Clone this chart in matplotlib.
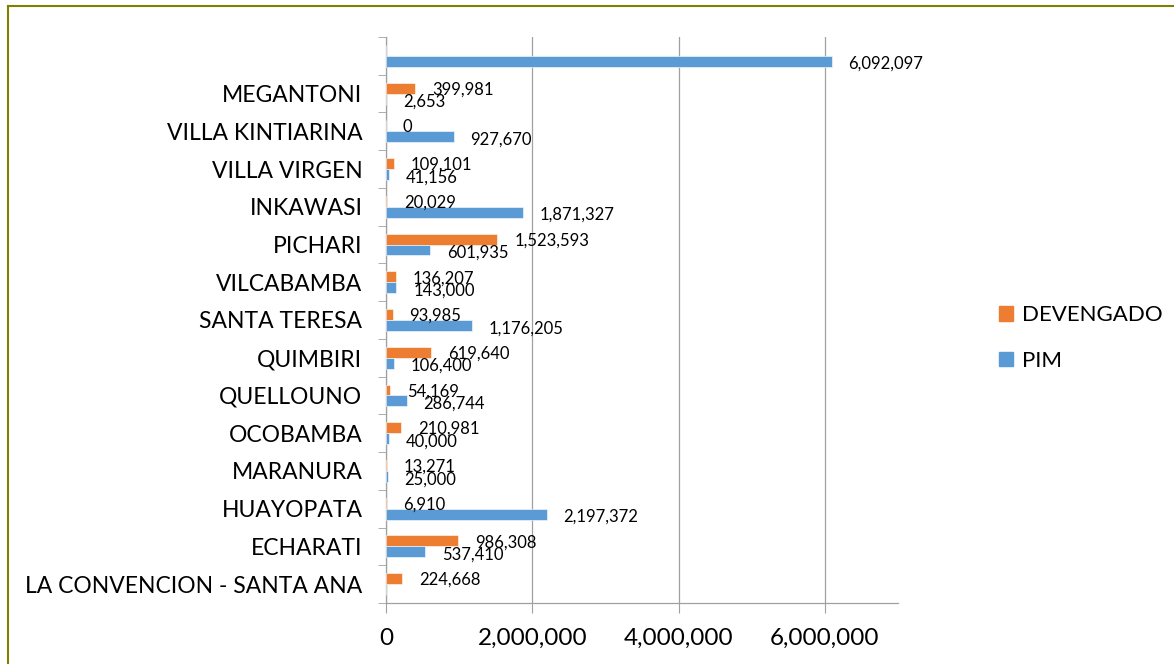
import matplotlib
matplotlib.use('Agg')
import matplotlib.pyplot as plt
from matplotlib.lines import Line2D
import numpy as np

plt.rcParams['font.family'] = ['Lato', 'DejaVu Sans']

# districts, bottom to top; the last one has no name
districts = ['LA CONVENCION - SANTA ANA', 'ECHARATI', 'HUAYOPATA', 'MARANURA',
             'OCOBAMBA', 'QUELLOUNO', 'QUIMBIRI', 'SANTA TERESA', 'VILCABAMBA',
             'PICHARI', 'INKAWASI', 'VILLA VIRGEN', 'VILLA KINTIARINA',
             'MEGANTONI', '']
devengado = [224668, 986308, 6910, 13271, 210981, 54169, 619640, 93985,
             136207, 1523593, 20029, 109101, 0, 399981, None]
pim = [None, 537410, 2197372, 25000, 40000, 286744, 106400, 1176205,
       143000, 601935, 1871327, 41156, 927670, 2653, 6092097]

orange = '#ED7D31'
blue = '#5B9BD5'
grey = '#A0A0A0'

fig = plt.figure(figsize=(11.74, 6.64), dpi=100)
ax = fig.add_axes([386 / 1174, 61 / 664, 512 / 1174, 566 / 664])

y = np.arange(len(districts))
h = 0.29
dev = np.array([np.nan if v is None else v for v in devengado], dtype=float)
pm = np.array([np.nan if v is None else v for v in pim], dtype=float)

ax.barh(y + h / 2, np.nan_to_num(dev), height=h, color=orange, label='DEVENGADO',
        edgecolor='white', linewidth=0.4, zorder=3)
ax.barh(y - h / 2, np.nan_to_num(pm), height=h, color=blue, label='PIM',
        edgecolor='white', linewidth=0.4, zorder=3)

for i in range(len(districts)):
    if not np.isnan(dev[i]):
        ax.annotate(f'{int(dev[i]):,}', (dev[i], y[i] + h / 2), xytext=(12, -1),
                    textcoords='offset points', ha='left', va='center',
                    fontsize=12, zorder=4)
    if not np.isnan(pm[i]):
        ax.annotate(f'{int(pm[i]):,}', (pm[i], y[i] - h / 2), xytext=(12, -2),
                    textcoords='offset points', ha='left', va='center',
                    fontsize=12, zorder=4)

ax.set_xlim(0, 7000000)
ax.set_ylim(-0.5, len(districts) - 0.5)
ax.set_xticks([0, 2000000, 4000000, 6000000])
ax.set_xticklabels(['0', '2,000,000', '4,000,000', '6,000,000'], fontsize=17.5)
ax.set_yticks(y)
ax.set_yticklabels(districts, fontsize=16.5)
ax.set_yticks(np.arange(-0.5, len(districts)), minor=True)
ax.tick_params(axis='y', which='major', length=0, pad=17)
ax.tick_params(axis='y', which='minor', length=6, color=grey, direction='out')
ax.tick_params(axis='x', length=7, color=grey, direction='out', pad=11)

ax.grid(axis='x', color=grey, linewidth=0.9, zorder=0)
ax.set_axisbelow(True)
for s in ['top', 'right']:
    ax.spines[s].set_visible(False)
for s in ['left', 'bottom']:
    ax.spines[s].set_color(grey)
    ax.spines[s].set_linewidth(0.9)

handles = [plt.Rectangle((0, 0), 1, 1, color=orange), plt.Rectangle((0, 0), 1, 1, color=blue)]
fig.legend(handles, ['DEVENGADO', 'PIM'], loc='center left',
           bbox_to_anchor=(979 / 1174, 1 - 338 / 664), frameon=False,
           fontsize=16, handlelength=0.65, handleheight=0.65, handletextpad=0.4,
           labelspacing=1.15)

# olive frame along top and left edge
fig.add_artist(Line2D([8 / 1174, 1], [1 - 6 / 664, 1 - 6 / 664], color='#7F7F00',
                      linewidth=1.5, transform=fig.transFigure))
fig.add_artist(Line2D([8 / 1174, 8 / 1174], [0, 1 - 6 / 664], color='#7F7F00',
                      linewidth=1.5, transform=fig.transFigure))

fig.savefig('out.png', dpi=100)
